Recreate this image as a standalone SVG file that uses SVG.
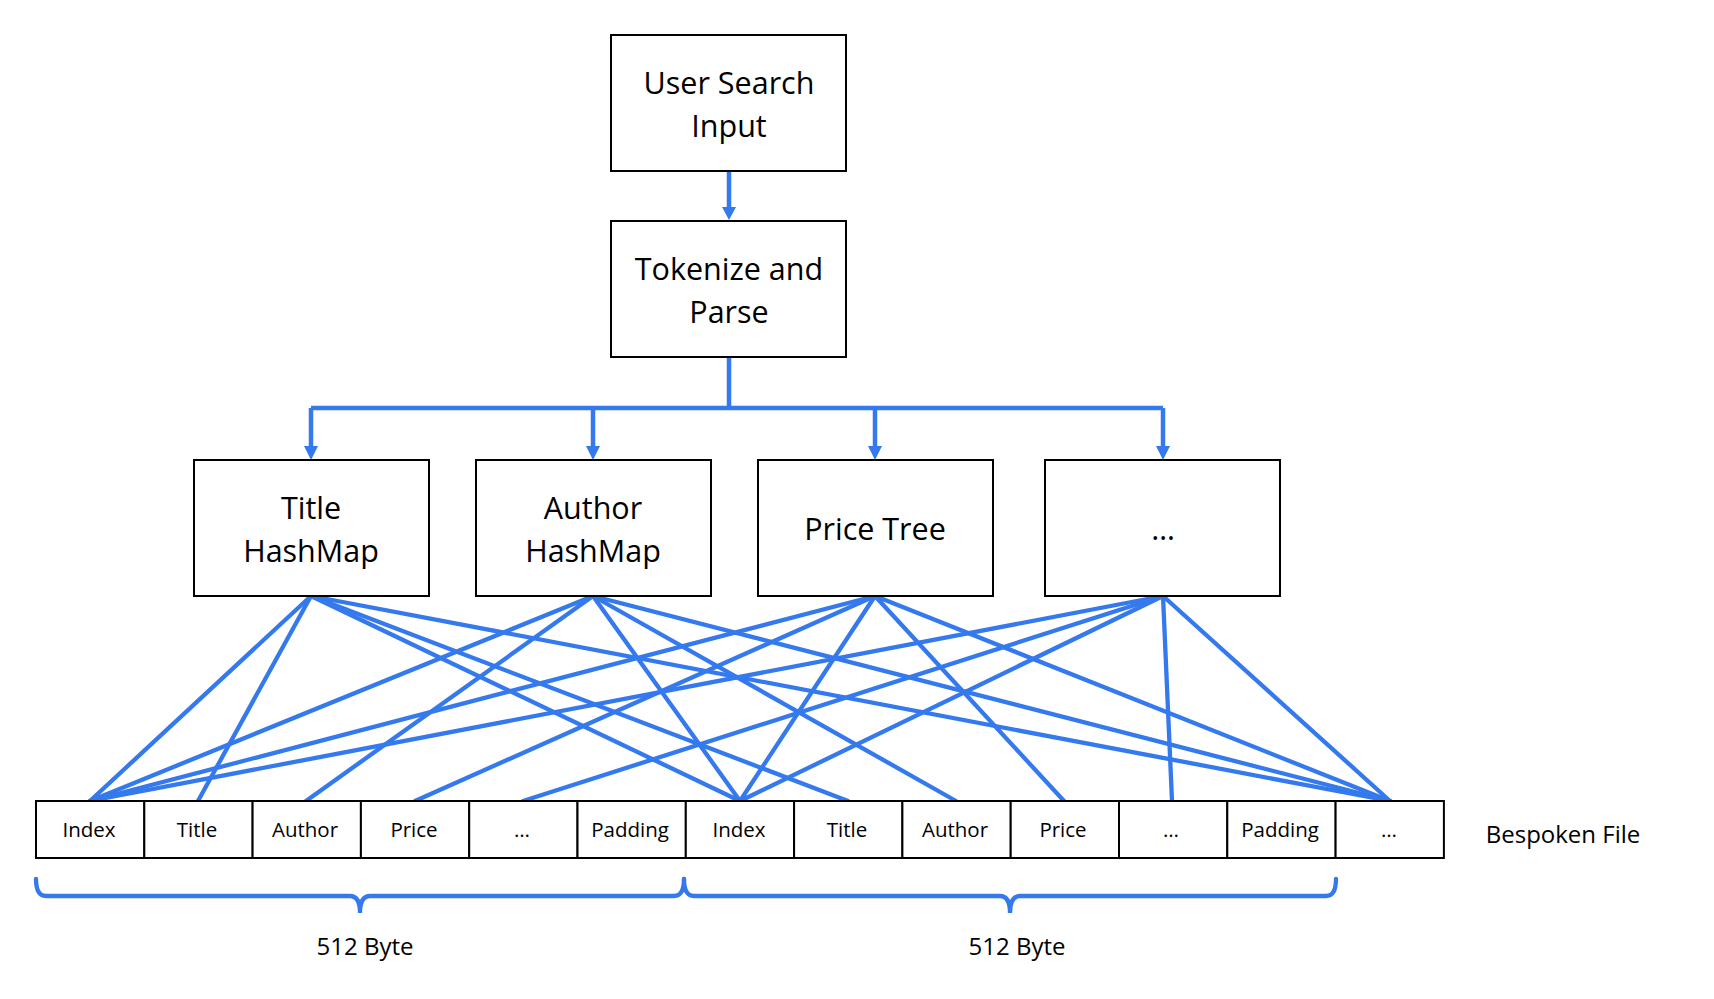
<svg xmlns="http://www.w3.org/2000/svg" width="1714" height="999" viewBox="0 0 1714 999">
<style>
.box{fill:#fff;stroke:#000;stroke-width:2}
.cell{fill:#fff;stroke:#000;stroke-width:2}
.t{font-family:"Open Sans","Noto Sans",sans-serif;fill:#000;text-anchor:middle}
.big{font-size:30.5px}
.sm{font-size:20.5px}
.md{font-size:24px}
.c{stroke:#3479ee;stroke-width:4.3;fill:none;stroke-linecap:round}
.f{stroke:#3479ee;stroke-width:4.5;fill:none}
.ah{fill:#3479ee}
</style>
<rect width="1714" height="999" fill="#fff"/>

<g id="connectors">
<path class="f" d="M729,171 V209"/>
<path class="ah" d="M722,207 L736,207 L729,220 Z"/>
<path class="f" d="M729,357 V408"/>
<path class="f" d="M311,408 H1163" stroke-width="5"/>
<path class="f" d="M311,408 V448"/>
<path class="ah" d="M304,446 L318,446 L311,460 Z"/>
<path class="f" d="M593,408 V448"/>
<path class="ah" d="M586,446 L600,446 L593,460 Z"/>
<path class="f" d="M875,408 V448"/>
<path class="ah" d="M868,446 L882,446 L875,460 Z"/>
<path class="f" d="M1163,408 V448"/>
<path class="ah" d="M1156,446 L1170,446 L1163,460 Z"/>

<g class="c">
<line x1="311" y1="596" x2="90" y2="801"/>
<line x1="311" y1="596" x2="198" y2="801"/>
<line x1="311" y1="596" x2="740" y2="801"/>
<line x1="311" y1="596" x2="848" y2="801"/>
<line x1="311" y1="596" x2="1390" y2="801"/>

<line x1="593" y1="596" x2="90" y2="801"/>
<line x1="593" y1="596" x2="306" y2="801"/>
<line x1="593" y1="596" x2="740" y2="801"/>
<line x1="593" y1="596" x2="956" y2="801"/>
<line x1="593" y1="596" x2="1390" y2="801"/>

<line x1="875" y1="596" x2="90" y2="801"/>
<line x1="875" y1="596" x2="415" y2="801"/>
<line x1="875" y1="596" x2="740" y2="801"/>
<line x1="875" y1="596" x2="1064" y2="801"/>
<line x1="875" y1="596" x2="1390" y2="801"/>

<line x1="1163" y1="596" x2="90" y2="801"/>
<line x1="1163" y1="596" x2="523" y2="801"/>
<line x1="1163" y1="596" x2="740" y2="801"/>
<line x1="1163" y1="596" x2="1172" y2="801"/>
<line x1="1163" y1="596" x2="1390" y2="801"/>
</g>

<path class="c" d="M36,879 Q36,896 46,896 L350,896 Q360,896 360,913 Q360,896 370,896 L674,896 Q684,896 684,879"/>
<path class="c" d="M684,879 Q684,896 694,896 L1000,896 Q1010,896 1010,913 Q1010,896 1020,896 L1326,896 Q1336,896 1336,879"/>
</g>

<g id="user-search-input">
<rect class="box" x="611" y="35" width="235" height="136"/>
<text class="t big" x="729" y="94">User Search</text>
<text class="t big" x="729" y="137">Input</text>
</g>
<g id="tokenize-parse">
<rect class="box" x="611" y="221" width="235" height="136"/>
<text class="t big" x="729" y="280">Tokenize and</text>
<text class="t big" x="729" y="323">Parse</text>
</g>
<g id="title-hashmap">
<rect class="box" x="194" y="460" width="235" height="136"/>
<text class="t big" x="311" y="519">Title</text>
<text class="t big" x="311" y="562">HashMap</text>
</g>
<g id="author-hashmap">
<rect class="box" x="476" y="460" width="235" height="136"/>
<text class="t big" x="593" y="519">Author</text>
<text class="t big" x="593" y="562">HashMap</text>
</g>
<g id="price-tree">
<rect class="box" x="758" y="460" width="235" height="136"/>
<text class="t big" x="875" y="540">Price Tree</text>
</g>
<g id="more-index">
<rect class="box" x="1045" y="460" width="235" height="136"/>
<text class="t big" x="1163" y="540">…</text>
</g>

<g id="bespoken-file">
<rect class="cell" x="36" y="801" width="108.3" height="57"/>
<rect class="cell" x="144.3" y="801" width="108.3" height="57"/>
<rect class="cell" x="252.6" y="801" width="108.3" height="57"/>
<rect class="cell" x="360.9" y="801" width="108.3" height="57"/>
<rect class="cell" x="469.2" y="801" width="108.3" height="57"/>
<rect class="cell" x="577.5" y="801" width="108.3" height="57"/>
<rect class="cell" x="685.8" y="801" width="108.3" height="57"/>
<rect class="cell" x="794.1" y="801" width="108.3" height="57"/>
<rect class="cell" x="902.4" y="801" width="108.3" height="57"/>
<rect class="cell" x="1010.7" y="801" width="108.3" height="57"/>
<rect class="cell" x="1119" y="801" width="108.3" height="57"/>
<rect class="cell" x="1227.3" y="801" width="108.3" height="57"/>
<rect class="cell" x="1335.6" y="801" width="108.3" height="57"/>
<g class="t sm">
<text x="89" y="837">Index</text>
<text x="197" y="837">Title</text>
<text x="305" y="837">Author</text>
<text x="414" y="837">Price</text>
<text x="522" y="837">…</text>
<text x="630" y="837">Padding</text>
<text x="739" y="837">Index</text>
<text x="847" y="837">Title</text>
<text x="955" y="837">Author</text>
<text x="1063" y="837">Price</text>
<text x="1171" y="837">…</text>
<text x="1280" y="837">Padding</text>
<text x="1389" y="837">…</text>
</g>
<text class="t md" x="1563" y="843">Bespoken File</text>
</g>

<g id="labels">
<text class="t md" x="365" y="955">512 Byte</text>
<text class="t md" x="1017" y="955">512 Byte</text>
</g>
</svg>
